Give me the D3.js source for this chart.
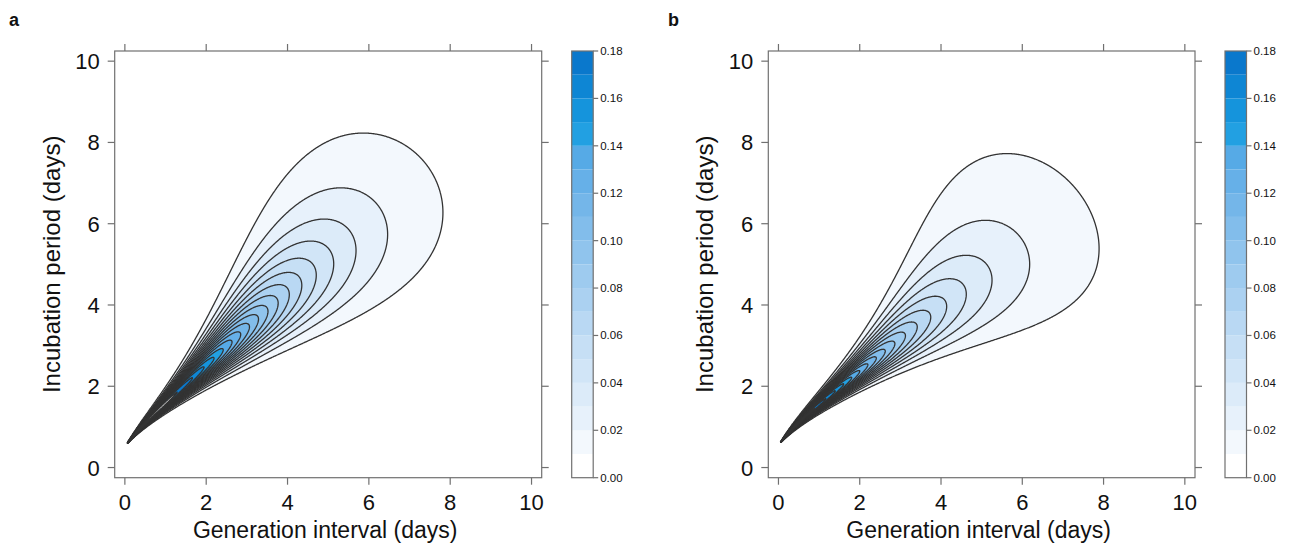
<!DOCTYPE html>
<html>
<head>
<meta charset="utf-8">
<script src="https://cdn.jsdelivr.net/npm/d3@7"></script>
<style>
  body { margin: 0; background: #fff; }
  svg text { font-family: "Liberation Sans", Arial, Helvetica, sans-serif; fill: #111; }
</style>
</head>
<body>
<svg id="chart" width="1292" height="547"></svg>
<script>
// contour cuts (lattice "at") and the colour of each band between them
const levels = [0.01, 0.02, 0.03, 0.04, 0.05, 0.06, 0.07, 0.08, 0.09,
                0.10, 0.11, 0.12, 0.13, 0.14, 0.15, 0.16, 0.17, 0.18];
const bandColors = ["#ffffff", "#f3f8fd", "#e7f1fb", "#dcebf9", "#d1e5f7", "#c6dff5",
                    "#b9d8f3", "#abd1f1", "#9ecbef", "#90c4ed", "#82bdeb", "#74b6e9",
                    "#66b0e8", "#56aae6", "#22a0e2", "#1594dc", "#0e86d4", "#0a78cc"];
const axisTicks = [0, 2, 4, 6, 8, 10];
const keyTicks = [0, 0.02, 0.04, 0.06, 0.08, 0.10, 0.12, 0.14, 0.16, 0.18];

// joint density of generation interval / incubation period, per panel (a, b)
const panelNames = ["a", "b"];
const tipPoint = [[0.05, 0.58], [0.04, 0.60]];      // days, where all contours meet
const peakDensity = [0.19, 0.19];
const radialRate = [0.468, 0.386];                  // log-density drop per day, far out
const radialCore = [4, 2];                          // days of flat top near the tip
const radialPower = [3, 3];
const ridgeAngle = [[44.4, 9, 1.0], [41, 12, 1.2]]; // deg far out, extra near tip, decay (days)
const angleSpread = [[3.3, 0.40, 1.4], [3.5, 0.163, 2]]; // deg at tip, growth, exponent

const svg = d3.select("#chart");
const domain = [-0.25, 10.25];
const plotTop = 51, plotBottom = 477.7;
const plotLeft = [114.7, 768.3], plotRight = [541.7, 1195];
const keyLeft = [571.7, 1225], keyWidth = 21.5;
const boxColor = "#707070";

const density = (p, gx, gy) => {
  const u = gx - tipPoint[p][0], v = gy - tipPoint[p][1];
  const r = Math.hypot(u, v);
  const phi = Math.atan2(v, u) * 180 / Math.PI;
  const [a0, a1, decay] = ridgeAngle[p];
  const centre = a0 + a1 * Math.exp(-r / decay);
  const [w0, w1, we] = angleSpread[p];
  const w = w0 + w1 * Math.pow(r, we);
  const d = (phi - centre) / w;
  const q = radialPower[p], c = radialCore[p];
  const radial = radialRate[p] * (Math.pow(Math.pow(r, q) + Math.pow(c, q), 1 / q) - c);
  return peakDensity[p] * Math.exp(-radial - d * d / 2);
};

const drawPanel = (p) => {
  const x = d3.scaleLinear(domain, [plotLeft[p], plotRight[p]]);
  const y = d3.scaleLinear(domain, [plotBottom, plotTop]);
  const g = svg.append("g");

  // density grid -> filled bands + contour lines
  const N = 700;
  const step = (domain[1] - domain[0]) / (N - 1);
  const values = new Float64Array(N * N);
  for (let j = 0; j < N; j++) {
    for (let i = 0; i < N; i++) {
      values[j * N + i] = density(p, domain[0] + i * step, domain[0] + j * step);
    }
  }
  const bands = d3.contours().size([N, N]).thresholds(levels)(values);
  const proj = d3.geoTransform({
    point(gx, gy) {
      this.stream.point(x(domain[0] + (gx - 0.5) * step), y(domain[0] + (gy - 0.5) * step));
    }
  });
  const path = d3.geoPath(proj);

  g.append("g").selectAll("path").data(bands).join("path")
    .attr("d", path)
    .attr("fill", (d, k) => k + 1 < bandColors.length ? bandColors[k + 1] : "#ffffff")
    .attr("stroke", "none");
  g.append("g").selectAll("path").data(bands).join("path")
    .attr("d", path)
    .attr("fill", "none")
    .attr("stroke", "#333333")
    .attr("stroke-width", 1.3)
    .attr("stroke-linejoin", "round");

  // frame with lattice-style ticks on all four sides
  g.append("rect")
    .attr("x", plotLeft[p]).attr("y", plotTop)
    .attr("width", plotRight[p] - plotLeft[p]).attr("height", plotBottom - plotTop)
    .attr("fill", "none").attr("stroke", boxColor).attr("stroke-width", 1.2);

  const tickLen = 7;
  const ticks = g.append("g").attr("stroke", boxColor).attr("stroke-width", 1.2);
  axisTicks.forEach(t => {
    ticks.append("line").attr("x1", x(t)).attr("x2", x(t)).attr("y1", plotBottom).attr("y2", plotBottom + tickLen);
    ticks.append("line").attr("x1", x(t)).attr("x2", x(t)).attr("y1", plotTop).attr("y2", plotTop - tickLen);
    ticks.append("line").attr("y1", y(t)).attr("y2", y(t)).attr("x1", plotLeft[p]).attr("x2", plotLeft[p] - tickLen);
    ticks.append("line").attr("y1", y(t)).attr("y2", y(t)).attr("x1", plotRight[p]).attr("x2", plotRight[p] + tickLen);
  });
  g.append("g").selectAll("text").data(axisTicks).join("text")
    .attr("x", d => x(d)).attr("y", 510)
    .attr("text-anchor", "middle").style("font-size", "22px")
    .text(d => d);
  g.append("g").selectAll("text").data(axisTicks).join("text")
    .attr("x", plotLeft[p] - 15).attr("y", d => y(d) + 8)
    .attr("text-anchor", "end").style("font-size", "22px")
    .text(d => d);

  const midX = (plotLeft[p] + plotRight[p]) / 2;
  g.append("text")
    .attr("x", midX - 3).attr("y", 538)
    .attr("text-anchor", "middle").style("font-size", "23px")
    .text("Generation interval (days)");
  g.append("text")
    .attr("transform", `translate(${plotLeft[p] - 55},${(plotTop + plotBottom) / 2}) rotate(-90)`)
    .attr("text-anchor", "middle").style("font-size", "24px")
    .text("Incubation period (days)");

  g.append("text")
    .attr("x", p === 0 ? 9 : 668).attr("y", 26)
    .style("font-size", "18px").style("font-weight", "bold")
    .text(panelNames[p]);

  // colour key
  const k = d3.scaleLinear([0, 0.18], [plotBottom, plotTop]);
  const key = g.append("g");
  key.selectAll("rect.band").data(bandColors).join("rect")
    .attr("class", "band")
    .attr("x", keyLeft[p]).attr("width", keyWidth)
    .attr("y", (d, i) => k((i + 1) * 0.01))
    .attr("height", (d, i) => k(i * 0.01) - k((i + 1) * 0.01))
    .attr("fill", d => d);
  key.append("rect")
    .attr("x", keyLeft[p]).attr("y", plotTop)
    .attr("width", keyWidth).attr("height", plotBottom - plotTop)
    .attr("fill", "none").attr("stroke", boxColor).attr("stroke-width", 1.2);
  keyTicks.forEach(t => {
    key.append("line")
      .attr("x1", keyLeft[p] + keyWidth).attr("x2", keyLeft[p] + keyWidth + 5)
      .attr("y1", k(t)).attr("y2", k(t))
      .attr("stroke", boxColor).attr("stroke-width", 1.2);
  });
  key.selectAll("text").data(keyTicks).join("text")
    .attr("x", keyLeft[p] + keyWidth + 7).attr("y", d => k(d) + 4)
    .style("font-size", "11.5px")
    .text(d => d.toFixed(2));
};

panelNames.forEach((n, p) => drawPanel(p));
</script>
</body>
</html>
